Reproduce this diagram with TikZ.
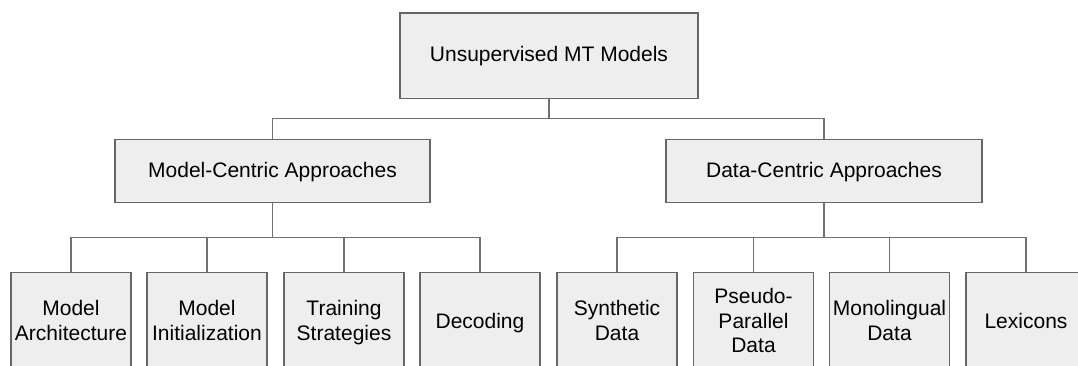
\documentclass[tikz,border=0pt]{standalone}
\usepackage{fontspec}
\setmainfont{Liberation Sans}
\definecolor{boxfill}{HTML}{EEEEEE}
\definecolor{boxline}{HTML}{666666}
\definecolor{conn}{HTML}{707070}
\newcommand{\ls}{\rule[-4.5pt]{0pt}{21.1pt}}
\newcommand{\boxfont}{\fontsize{21}{24.5}\selectfont\lineskiplimit=-100pt\relax}
\begin{document}
\begin{tikzpicture}[x=1pt,y=-1pt,
  box/.style={draw=boxline, fill=boxfill, line width=1.3pt, inner sep=0pt,
    align=center, font=\boxfont},
  leaf/.style={box, minimum width=120pt, minimum height=98.6pt},
  link/.style={draw=conn, line width=1.3pt}]
\clip (0,0) rectangle (1078,365);
\fill[white] (0,0) rectangle (1078,365);
\node[box, minimum width=298pt, minimum height=85.3pt] (top) at (549,55.7) {\ls Unsupervised MT Models};
\node[box, minimum width=315pt, minimum height=63.4pt] (mc) at (272.5,171) {\ls Model-Centric Approaches};
\node[box, minimum width=316pt, minimum height=63.4pt] (dc) at (824,171) {\ls Data-Centric Approaches};
\node[leaf] (a1) at (71,322) {\ls Model\\\ls Architecture};
\node[leaf] (a2) at (207,322) {\ls Model\\\ls Initialization};
\node[leaf] (a3) at (344,322) {\ls Training\\\ls Strategies};
\node[leaf] (a4) at (480,322) {\ls Decoding};
\node[leaf] (b1) at (617,322) {\ls Synthetic\\\ls Data};
\node[leaf] (b2) at (753.5,322) {\ls Pseudo-\\\ls Parallel\\\ls Data};
\node[leaf] (b3) at (889.5,322) {\ls Monolingual\\\ls Data};
\node[leaf] (b4) at (1026,322) {\ls Lexicons};
\coordinate (j0) at (549,118.3);
\coordinate (j1) at (272.5,237.3);
\coordinate (j2) at (824,237.3);
\draw[link] (top.south) -- (j0);
\draw[link] (j0) -| (mc.north);
\draw[link] (j0) -| (dc.north);
\draw[link] (mc.south) -- (j1);
\foreach \n in {a1,a2,a3,a4} \draw[link] (j1) -| (\n.north);
\draw[link] (dc.south) -- (j2);
\foreach \n in {b1,b2,b3,b4} \draw[link] (j2) -| (\n.north);
\end{tikzpicture}
\end{document}
